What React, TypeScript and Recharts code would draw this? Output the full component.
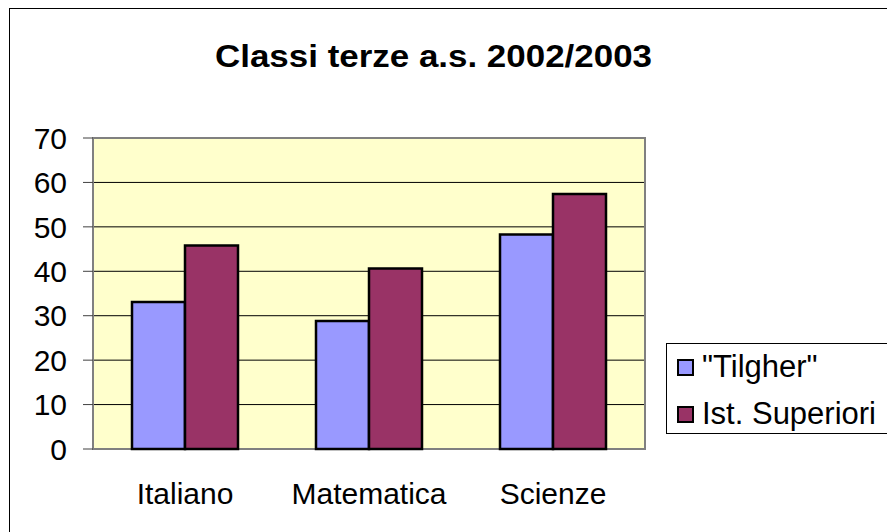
import React from "react";
import {
  BarChart,
  Bar,
  XAxis,
  YAxis,
  CartesianGrid,
  ReferenceArea,
} from "recharts";

const categories = ["Italiano", "Matematica", "Scienze"];
const tilgher = [33.1, 28.8, 48.3];
const istSuperiori = [45.8, 40.6, 57.4];
const yTicks = [0, 10, 20, 30, 40, 50, 60, 70];
const boundaryTicks = [0, 1, 2, 3];
const seriesNames = ['"Tilgher"', "Ist. Superiori"];
const seriesColors = ["#9999FF", "#993366"];
const title = "Classi terze a.s. 2002/2003";

const data = categories.map((c, i) => ({
  name: c,
  tilgher: tilgher[i],
  ist: istSuperiori[i],
}));

const FONT = "'Liberation Sans', Arial, sans-serif";

const LegendBox = () => (
  <div
    style={{
      position: "absolute",
      left: 666,
      top: 343,
      width: 240,
      height: 91,
      border: "1px solid #000",
      background: "#fff",
      fontFamily: FONT,
      fontSize: 31,
      color: "#000",
      boxSizing: "border-box",
    }}
  >
    {seriesNames.map((n, i) => (
      <div
        key={n}
        style={{
          position: "absolute",
          left: 10,
          top: 5 + i * 47,
          height: 36,
          display: "flex",
          alignItems: "center",
          whiteSpace: "nowrap",
        }}
      >
        <span
          style={{
            display: "inline-block",
            width: 13,
            height: 13,
            background: seriesColors[i],
            border: "2px solid #000",
            marginRight: 8,
          }}
        />
        <span>{n}</span>
      </div>
    ))}
  </div>
);

export default function App() {
  return (
    <div
      style={{
        position: "fixed",
        left: 0,
        top: 0,
        width: 887,
        height: 532,
        background: "#fff",
        overflow: "hidden",
      }}
    >
      <div
        style={{
          position: "absolute",
          left: 9,
          top: 8,
          width: 900,
          height: 600,
          borderLeft: "1px solid #000",
          borderTop: "1px solid #000",
        }}
      />
      <svg
        width={887}
        height={100}
        style={{ position: "absolute", left: 0, top: 0 }}
      >
        <text
          x={433.5}
          y={67}
          textAnchor="middle"
          fontFamily={FONT}
          fontWeight="bold"
          fontSize={31}
          textLength={437}
          lengthAdjust="spacingAndGlyphs"
          fill="#000"
        >
          {title}
        </text>
      </svg>
      <div style={{ position: "absolute", left: 0, top: 0 }}>
        <BarChart
          width={887}
          height={532}
          data={data}
          margin={{ top: 138, right: 242, left: 0, bottom: 0 }}
          barCategoryGap={39}
          barGap={0}
        >
          <CartesianGrid
            xAxisId="cat"
            vertical={false}
            stroke="#000"
            strokeWidth={1}
            fill="#FFFFCC"
            fillOpacity={1}
          />
          <XAxis
            xAxisId="bnd"
            type="number"
            domain={[0, 3]}
            ticks={boundaryTicks}
            allowDataOverflow
            tick={false}
            tickSize={9}
            tickLine={{ stroke: "#404040", strokeWidth: 1 }}
            axisLine={{ stroke: "#808080", strokeWidth: 2 }}
            height={0}
          />
          <XAxis
            xAxisId="cat"
            dataKey="name"
            type="category"
            axisLine={false}
            tickLine={false}
            tickSize={0}
            tickMargin={34}
            height={83}
            tick={{ fill: "#000", fontSize: 30, fontFamily: FONT }}
          />
          <YAxis
            width={93}
            domain={[0, 70]}
            ticks={yTicks}
            interval={0}
            tickSize={10}
            tickMargin={16}
            axisLine={{ stroke: "#808080", strokeWidth: 2 }}
            tickLine={{ stroke: "#404040", strokeWidth: 1 }}
            tick={{ fill: "#000", fontSize: 30, fontFamily: FONT }}
          />
          <ReferenceArea
            xAxisId="cat"
            y1={0}
            y2={70}
            fill="none"
            stroke="#808080"
            strokeWidth={2}
            ifOverflow="visible"
          />
          <Bar
            xAxisId="cat"
            dataKey="tilgher"
            name={seriesNames[0]}
            fill={seriesColors[0]}
            stroke="#000"
            strokeWidth={2.5}
            isAnimationActive={false}
          />
          <Bar
            xAxisId="cat"
            dataKey="ist"
            name={seriesNames[1]}
            fill={seriesColors[1]}
            stroke="#000"
            strokeWidth={2.5}
            isAnimationActive={false}
          />
        </BarChart>
      </div>
      <LegendBox />
    </div>
  );
}
